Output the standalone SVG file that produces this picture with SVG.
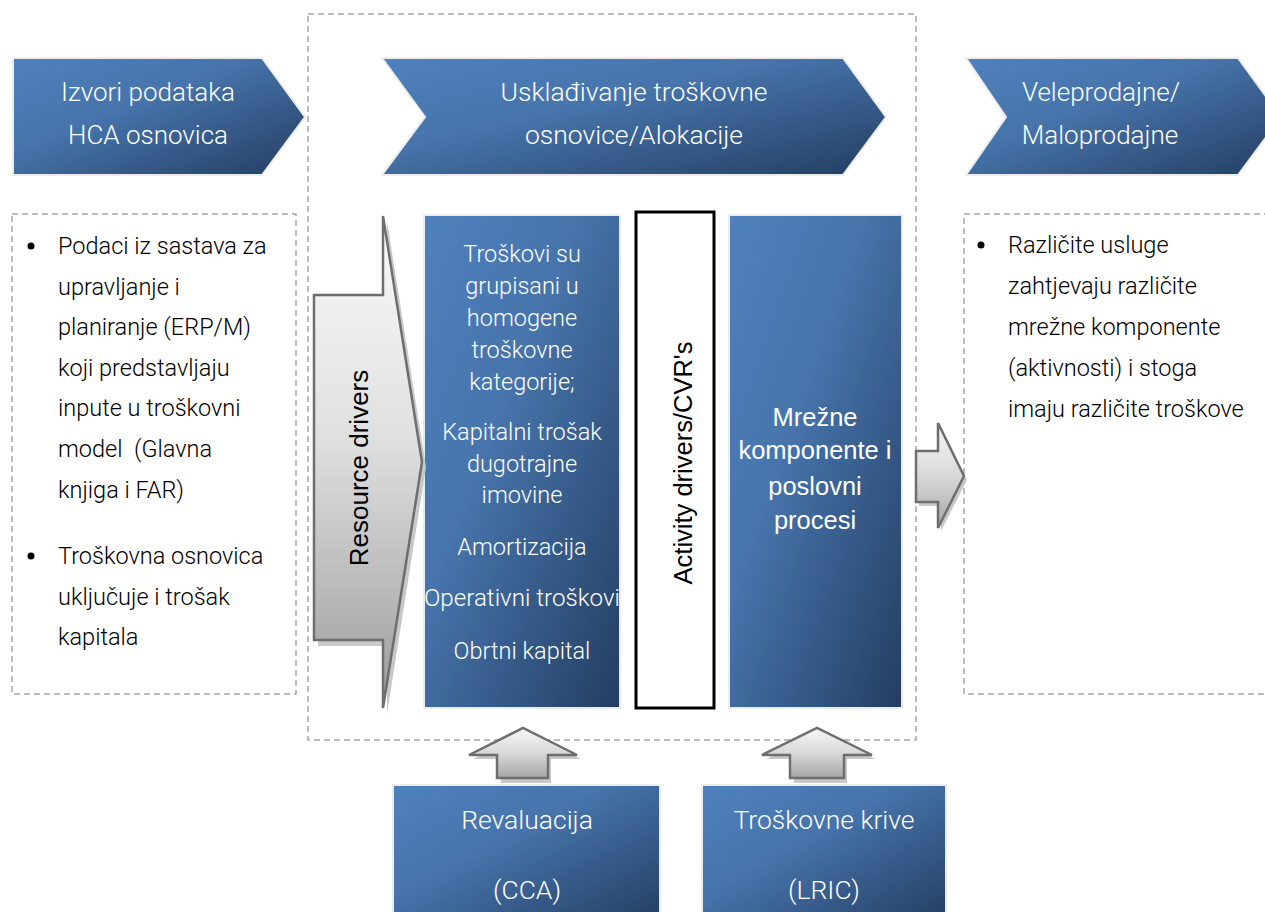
<svg xmlns="http://www.w3.org/2000/svg" width="1265" height="912" viewBox="0 0 1265 912">
  <defs>
    <linearGradient id="blueFill" x1="0" y1="0" x2="1" y2="1">
      <stop offset="0" stop-color="#4f81bd"/>
      <stop offset="0.4" stop-color="#4674ab"/>
      <stop offset="1" stop-color="#243d61"/>
    </linearGradient>
    <linearGradient id="greyFill" x1="0" y1="0" x2="0" y2="1">
      <stop offset="0" stop-color="#fafafa"/>
      <stop offset="0.45" stop-color="#e0e0e0"/>
      <stop offset="1" stop-color="#9c9c9c"/>
    </linearGradient>
    <linearGradient id="greyFillH" x1="0" y1="0" x2="0" y2="1">
      <stop offset="0" stop-color="#f7f7f7"/>
      <stop offset="0.5" stop-color="#d9d9d9"/>
      <stop offset="1" stop-color="#a6a6a6"/>
    </linearGradient>
  </defs>
  <style>
    .blue { fill: url(#blueFill); stroke: #ececec; stroke-width: 2; }
    .dash { fill: none; stroke: #a6a6a6; stroke-width: 1.5; stroke-dasharray: 6 4; }
    .grey { stroke: #6e6e6e; stroke-width: 2.5; stroke-linejoin: miter; }
    .shadow { fill: #c8c8c8; }
    .wt { font-family: Roboto, "Liberation Sans", sans-serif; font-weight: 300; fill: #ffffff; text-anchor: middle; }
    .bt { font-family: Roboto, "Liberation Sans", sans-serif; font-weight: 300; fill: #000000; font-size: 23.5px; }
    .at { font-family: "Liberation Sans", Arial, sans-serif; text-anchor: middle; }
  </style>

  <rect width="1265" height="912" fill="#ffffff"/>

  <!-- dashed frames -->
  <g id="frames">
    <rect class="dash" x="308" y="14" width="608" height="726"/>
    <rect class="dash" x="12" y="214" width="284" height="480"/>
    <rect class="dash" x="964" y="214" width="320" height="480"/>
  </g>

  <!-- stage headers -->
  <g id="header-izvori">
    <polygon class="blue" points="13,58 262,58 305,117 262,175 13,175"/>
    <text class="wt" font-size="26" x="148" y="101">Izvori podataka</text>
    <text class="wt" font-size="26" x="148" y="144">HCA osnovica</text>
  </g>
  <g id="header-uskladjivanje">
    <polygon class="blue" points="382,58 843,58 886,117 843,175 382,175 425,117"/>
    <text class="wt" font-size="26.5" x="634" y="101">Usklađivanje troškovne</text>
    <text class="wt" font-size="26.5" x="634" y="144">osnovice/Alokacije</text>
  </g>
  <g id="header-prodaja">
    <polygon class="blue" points="966,58 1238,58 1281,117 1238,175 966,175 1006,117"/>
    <text class="wt" font-size="26" x="1101" y="101">Veleprodajne/</text>
    <text class="wt" font-size="26" x="1100" y="144">Maloprodajne</text>
  </g>

  <!-- left text panel -->
  <g id="izvori-opis">
    <circle cx="31" cy="246" r="3.5"/>
    <circle cx="31" cy="556" r="3.5"/>
    <text class="bt" x="58" y="254">Podaci iz sastava za</text>
    <text class="bt" x="58" y="295">upravljanje i</text>
    <text class="bt" x="58" y="335">planiranje (ERP/M)</text>
    <text class="bt" x="58" y="376">koji predstavljaju</text>
    <text class="bt" x="58" y="416">inpute u troškovni</text>
    <text class="bt" x="58" y="457" xml:space="preserve">model  (Glavna</text>
    <text class="bt" x="58" y="498">knjiga i FAR)</text>
    <text class="bt" x="58" y="564">Troškovna osnovica</text>
    <text class="bt" x="58" y="605">uključuje i trošak</text>
    <text class="bt" x="58" y="645">kapitala</text>
  </g>

  <!-- right text panel -->
  <g id="prodaja-opis">
    <circle cx="981" cy="245" r="3.5"/>
    <text class="bt" x="1008" y="253">Različite usluge</text>
    <text class="bt" x="1008" y="294">zahtjevaju različite</text>
    <text class="bt" x="1008" y="335">mrežne komponente</text>
    <text class="bt" x="1008" y="376">(aktivnosti) i stoga</text>
    <text class="bt" x="1008" y="417">imaju različite troškove</text>
  </g>

  <!-- cost categories -->
  <g id="troskovi">
    <rect class="blue" x="424" y="215" width="196" height="493"/>
    <g class="wt" font-size="23.5">
      <text x="522" y="262">Troškovi su</text>
      <text x="522" y="294">grupisani u</text>
      <text x="522" y="326">homogene</text>
      <text x="522" y="358">troškovne</text>
      <text x="522" y="390">kategorije;</text>
      <text x="522" y="440">Kapitalni trošak</text>
      <text x="522" y="472">dugotrajne</text>
      <text x="522" y="503">imovine</text>
      <text x="522" y="555">Amortizacija</text>
      <text x="522" y="606" textLength="196" lengthAdjust="spacingAndGlyphs">Operativni troškovi</text>
      <text x="522" y="659">Obrtni kapital</text>
    </g>
  </g>

  <!-- activity drivers -->
  <g id="activity-drivers">
    <rect x="636" y="212" width="78" height="496" fill="#ffffff" stroke="#000000" stroke-width="3"/>
    <text class="at" font-size="25.5" transform="translate(692,463) rotate(-90)">Activity drivers/CVR's</text>
  </g>

  <!-- network components -->
  <g id="mrezne-komponente">
    <rect class="blue" x="729" y="215" width="173" height="493"/>
    <g class="at" font-size="25.5" fill="#ffffff">
      <text x="815" y="426">Mrežne</text>
      <text x="815" y="459">komponente i</text>
      <text x="815" y="495">poslovni</text>
      <text x="815" y="529">procesi</text>
    </g>
  </g>

  <!-- input boxes -->
  <g id="revaluacija">
    <rect class="blue" x="393" y="785" width="267" height="140"/>
    <text class="wt" font-size="26.5" x="527" y="829">Revaluacija</text>
    <text class="wt" font-size="26.5" x="527" y="899">(CCA)</text>
  </g>
  <g id="troskovne-krive">
    <rect class="blue" x="702" y="785" width="244" height="140"/>
    <text class="wt" font-size="26.5" x="824" y="829">Troškovne krive</text>
    <text class="wt" font-size="26.5" x="824" y="899">(LRIC)</text>
  </g>

  <!-- block arrows -->
  <g id="connectors">
    <g id="resource-drivers">
      <polygon class="shadow" points="318,300 387,300 387,221 426,467 387,714 387,646 318,646"/>
      <polygon class="grey" fill="url(#greyFill)" points="314,295 383,295 383,216 422,462 383,708 383,640 314,640"/>
      <text class="at" font-size="26" fill="#000000" transform="translate(368,468) rotate(-90)">Resource drivers</text>
    </g>
    <g id="arrow-prodaja">
      <polygon class="shadow" points="919,455 941,455 941,427 967,480 941,531 941,506 919,506"/>
      <polygon class="grey" fill="url(#greyFillH)" points="916,451 938,451 938,423 964,476 938,528 938,502 916,502"/>
    </g>
    <g id="arrow-revaluacija">
      <polygon class="shadow" points="473,759 527,733 581,759 551,759 551,783 501,783 501,759"/>
      <polygon class="grey" fill="url(#greyFillH)" points="469,755 523,728 577,755 548,755 548,778 497,778 497,755"/>
    </g>
    <g id="arrow-krive">
      <polygon class="shadow" points="766,759 821,733 876,759 847,759 847,783 794,783 794,759"/>
      <polygon class="grey" fill="url(#greyFillH)" points="762,755 817,728 872,755 844,755 844,778 790,778 790,755"/>
    </g>
  </g>
</svg>
